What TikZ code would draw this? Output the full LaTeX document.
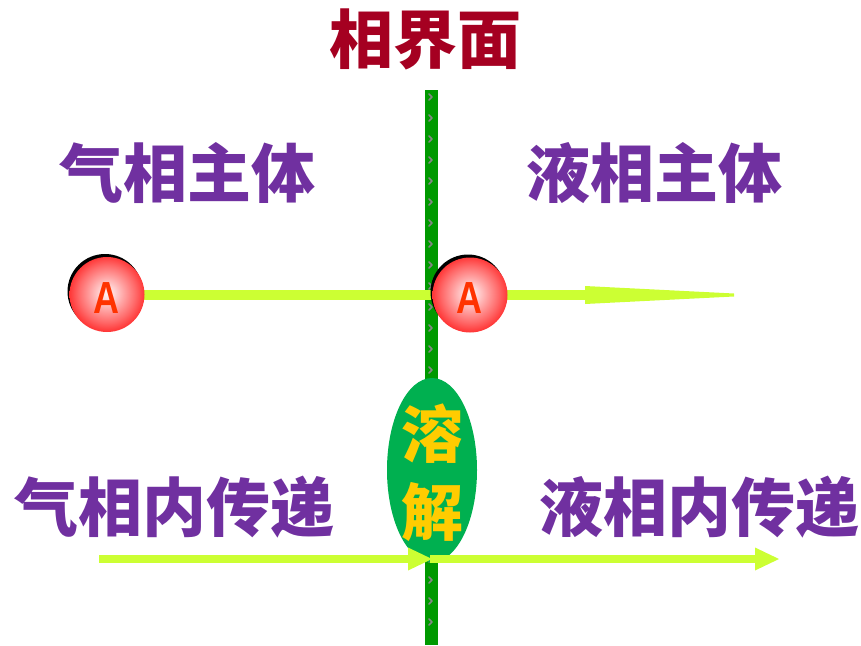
\documentclass[tikz,border=0pt]{standalone}
\usepackage{fontspec}
\usetikzlibrary{shapes.geometric}
\newfontfamily\cjk{Noto Sans CJK SC}
\newfontfamily\latinA{Liberation Sans}
\definecolor{cPurple}{RGB}{112,48,160}
\definecolor{cDarkRed}{RGB}{165,0,33}
\definecolor{cLime}{RGB}{204,255,51}
\definecolor{cBar}{RGB}{0,153,0}
\definecolor{cEll}{RGB}{0,176,80}
\definecolor{cGold}{RGB}{255,204,0}
\definecolor{cRed}{RGB}{255,55,55}
\definecolor{cAtxt}{RGB}{255,51,0}
\definecolor{cChev}{RGB}{135,135,135}
\pgfdeclareradialshading{ballA}{\pgfpoint{0bp}{1bp}}{color(0bp)=(white!96!cRed); color(4bp)=(white!82!cRed); color(11bp)=(white!55!cRed); color(19bp)=(white!25!cRed); color(25bp)=(cRed); color(50bp)=(cRed)}
\tikzset{
  biglabel/.style={font=\cjk\bfseries\fontsize{64}{64}\selectfont, text=cPurple, anchor=base, inner sep=0pt},
  limeline/.style={draw=cLime, line width=#1},
  limehead/.style={fill=cLime, draw=none},
  molecule/.style={circle, minimum size=75pt, inner sep=0pt, shading=ballA},
  moleculeshadow/.style={circle, minimum size=75pt, inner sep=0pt, fill=black},
  atext/.style={font=\latinA\bfseries\fontsize{45}{45}\selectfont, text=cAtxt, anchor=base, inner sep=0pt, xscale=0.8},
  chev/.style={draw=cChev, line width=1.6pt, line cap=round, line join=round},
  dissolve/.style={ellipse, fill=cEll, minimum width=90pt, minimum height=184pt, inner sep=0pt},
  dissolvetext/.style={font=\cjk\bfseries\fontsize{62}{62}\selectfont, text=cGold, anchor=base, inner sep=0pt}
}
\begin{document}
\begin{tikzpicture}[x=1pt,y=-1pt]
\useasboundingbox (0,0) rectangle (861,645);
% interface bar
\fill[cBar] (425,90) rectangle (438,645);
\foreach \yy in {97,118,...,640}{
  \draw[chev] (429,\yy-3) -- (432,\yy) -- (429,\yy+3);
}
% titles
\node[font=\cjk\bfseries\fontsize{64}{64}\selectfont, text=cDarkRed, anchor=base, inner sep=0pt] (title) at (425,63) {相界面};
\node[biglabel] (gasbulk) at (187.5,197) {气相主体};
\node[biglabel] (liqbulk) at (654,197) {液相主体};
\node[biglabel] (gastrans) at (174.5,531) {气相内传递};
\node[biglabel] (liqtrans) at (699,531) {液相内传递};
% top arrow
\coordinate (topstart) at (107,295);
\coordinate (topheadbase) at (586,295);
\draw[limeline=10pt] (topstart) -- (topheadbase);
\fill[limehead] (585,286) -- (734,293.5) -- (734,296.5) -- (585,304) -- cycle;
% molecules
\node[moleculeshadow] (shA) at (105,291.5) {};
\node[molecule] (molA) at (107,294.5) {};
\node[atext] (labA) at (106.5,313) {A};
\node[moleculeshadow] (shB) at (468,292) {};
\node[molecule] (molB) at (470,295) {};
\node[atext] (labB) at (469.5,313) {A};
% dissolution ellipse
\node[dissolve] (diss) at (432,470) {};
\node[dissolvetext] (rong) at (432,457) {溶};
\node[dissolvetext] (jie) at (432,535) {解};
% bottom arrows
\coordinate (lstart) at (99,559);
\coordinate (lbase) at (409,559);
\draw[limeline=8pt] (lstart) -- (lbase);
\fill[limehead] (408,547.5) -- (432,559) -- (408,570.5) -- cycle;
\coordinate (rstart) at (430,559);
\coordinate (rbase) at (756,559);
\draw[limeline=8pt] (rstart) -- (rbase);
\fill[limehead] (755,547.5) -- (779,559) -- (755,570.5) -- cycle;
\end{tikzpicture}
\end{document}
